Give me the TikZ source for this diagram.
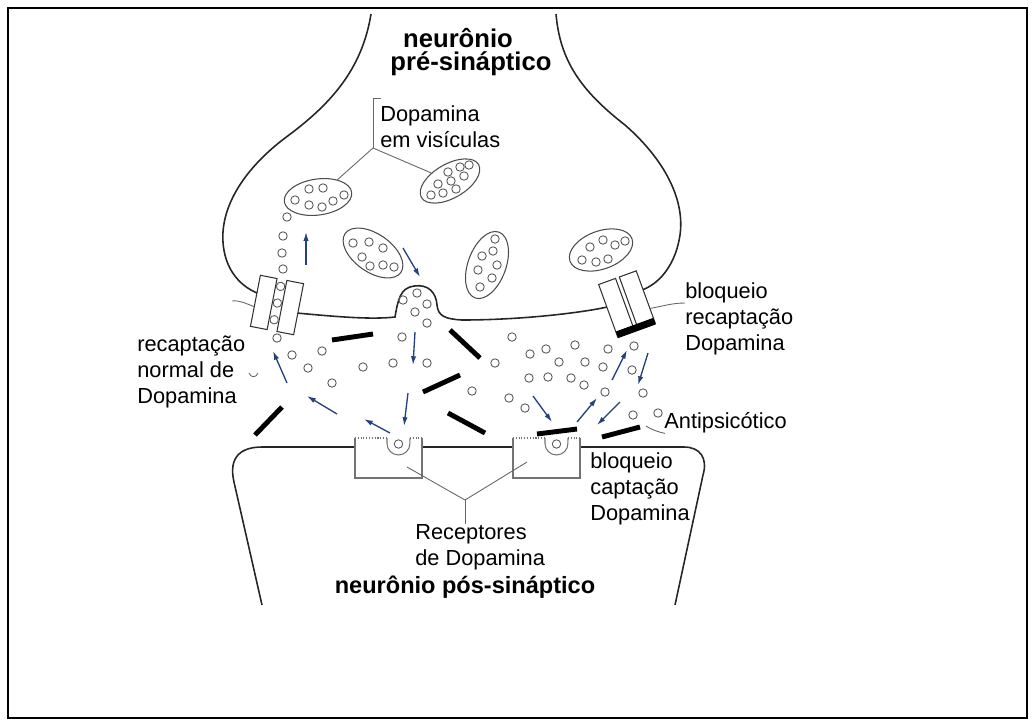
\documentclass[tikz,border=0pt]{standalone}
\usepackage{fontspec}
\setmainfont{Liberation Sans}
\usetikzlibrary{shapes.geometric,arrows.meta}

\definecolor{flowblue}{RGB}{35,65,125}

\begin{document}
\begin{tikzpicture}[
  x=0.02cm, y=-0.02cm,
  every node/.style={inner sep=0pt},
  membrane/.style={draw=black!85, line width=0.9pt},
  vesicle/.style={ellipse, draw=black!70, line width=0.6pt},
  dopa/.style={draw=black!65, line width=0.5pt},
  drug/.style={draw=black, line width=2.8pt},
  flow/.style={draw=flowblue, line width=0.75pt, -{Latex[length=5pt,width=3pt]}},
  lead/.style={draw=black!60, line width=0.5pt},
  pump/.style={draw=black!80, line width=0.6pt, fill=white},
  recep/.style={draw=black!55, line width=0.6pt},
  % multi-line labels sit on the baseline of their last line
  lbl/.style={font=\fontsize{12.4}{14.8}\selectfont, align=left, anchor=base west},
  title/.style={font=\fontsize{14.6}{13}\selectfont\bfseries, anchor=base}]

  \useasboundingbox (0,0) rectangle (1034,725);
  \draw[line width=1.1pt] (8,8) rectangle (1027,718);

  % reuptake pump (open)
  \begin{scope}[shift={(277,305)}, rotate=-11]
    \draw[pump] (-22,-26) rectangle (-5,26);
    \draw[pump] (5,-26) rectangle (22,26);
    \foreach \y in {-19,-2,15} \draw[dopa] (0,\y) circle [radius=2.4pt];
    \coordinate (lt-out)  at (-22,-8);
    \coordinate (lt-in)   at (22,4);
    \coordinate (lt-lead) at (-22,6);
  \end{scope}

  % reuptake pump (blocked)
  \begin{scope}[shift={(627,304)}, rotate=20]
    \draw[pump] (-20,-28) rectangle (-2,28);
    \draw[pump] (2,-28) rectangle (20,28);
    \fill (-20,22) rectangle (20,29);
    \coordinate (rt-in)   at (-20,-4);
    \coordinate (rt-out)  at (20,-8);
    \coordinate (rt-lead) at (20,12);
  \end{scope}

  % presynaptic terminal
  \draw[membrane] (371,14) .. controls (362,70) and (330,105) .. (285,138)
    .. controls (240,172) and (215,215) .. (225,255)
    .. controls (230,275) and (243,287) .. (lt-out);
  \draw[membrane] (556,14) .. controls (560,60) and (580,90) .. (625,125)
    .. controls (665,160) and (685,200) .. (680,235)
    .. controls (676,262) and (662,282) .. (rt-out);
  \draw[membrane] (lt-in) .. controls (330,316) and (370,320) .. (395,317)
    .. controls (398,300) and (400,288) .. (414,286)
    .. controls (428,284) and (436,292) .. (437,305)
    .. controls (438,316) and (445,319) .. (462,320)
    .. controls (520,320) and (580,313) .. (rt-in);

  % postsynaptic cell
  \draw[membrane] (262,605) -- (234,482) .. controls (228,456) and (242,447) .. (262,447) -- (355,447);
  \draw[membrane] (422,447) -- (513,447);
  \draw[membrane] (580,447) -- (684,447) .. controls (700,447) and (708,458) .. (703,475) -- (675,605);

  % receptors
  \foreach \l in {355,513} {
    \draw[recep] (\l,438) -- (\l,478) -- (\l+67,478) -- (\l+67,438);
    \draw[recep, densely dotted] (\l,438) -- (\l+32,438);
    \draw[recep, densely dotted] (\l+55,438) -- (\l+67,438);
    \draw[recep] (\l+32,438) -- (\l+32,443.5) arc (180:360:6.52pt) -- (\l+55,438);
    \draw[dopa] (\l+43.5,444) circle [radius=2.4pt];
  }

  % vesicles
  \node[vesicle, minimum width=1.36cm, minimum height=0.72cm, rotate=8]  (ves1) at (318,197) {};
  \node[vesicle, minimum width=1.32cm, minimum height=0.68cm, rotate=30] (ves2) at (450,181) {};
  \node[vesicle, minimum width=1.36cm, minimum height=0.76cm, rotate=-35] (ves3) at (373,253) {};
  \node[vesicle, minimum width=1.40cm, minimum height=0.76cm, rotate=70] (ves4) at (487,265) {};
  \node[vesicle, minimum width=1.32cm, minimum height=0.76cm, rotate=20] (ves5) at (601,250) {};

  % dopamine inside the vesicles
  \foreach \p in {(309,189),(323,188),(295,200),(309,205),(322,207),(333,201),(344,195),
                  (448,172),(460,167),(469,165),(438,184),(451,181),(464,176),(431,195),(443,193),(456,189),
                  (353,243),(369,242),(383,248),(362,257),(370,266),(383,265),(394,267),
                  (495,239),(482,256),(493,251),(478,270),(497,265),(492,278),(480,287),
                  (590,247),(603,240),(615,245),(625,241),(582,260),(596,262),(608,259)}
    \draw[dopa] \p circle [radius=2.4pt];

  % dopamine going back up, released, and free in the cleft
  \foreach \p in {(287,217),(283,236),(282,253),(283,269),
                  (403,300),(417,293),(427,304),(415,312),(427,323),
                  (277,338),(292,355),(322,351),(308,368),(332,383),(363,367),(393,363),(402,337),
                  (427,363),(472,391),(512,337),(495,363),(530,354),(546,349),(559,362),(575,345),
                  (585,362),(608,349),(634,346),(603,367),(632,370),(529,378),(548,377),(571,378),
                  (584,385),(605,392),(643,393),(509,398),(525,408),(633,415),(658,413)}
    \draw[dopa] \p circle [radius=2.4pt];

  % antipsychotic
  \foreach \xa/\ya/\xb/\yb in {332/340/373/334, 450/330/480/358, 423/392/460/375,
                               282/407/255/435, 448/413/485/433, 537/434/577/429, 602/437/640/427}
    \draw[drug] (\xa,\ya) -- (\xb,\yb);

  % movement
  \foreach \xa/\ya/\xb/\yb in {306/265/306/232, 403/248/420/277, 415/332/413/365,
                               287/383/273/351, 337/414/307/396, 390/433/364/419,
                               408/393/404/426, 533/396/552/422, 577/422/597/398,
                               620/402/597/425, 612/380/627/350, 648/353/638/385}
    \draw[flow] (\xa,\ya) -- (\xb,\yb);

  % labels
  \node[title] (pre1) at (458,47) {neurônio};
  \node[title] (pre2) at (471,70) {pré-sináptico};
  \node[lbl] (dv)  at (380,147) {Dopamina\\em visículas};
  \node[lbl] (rn)  at (137,403) {recaptação\\normal de\\Dopamina};
  \node[lbl] (br)  at (685,350) {bloqueio\\recaptação\\Dopamina};
  \node[lbl] (ap)  at (664,428) {Antipsicótico};
  \node[lbl] (bc)  at (590,520) {bloqueio\\captação\\Dopamina};
  \node[lbl] (rcp) at (415,565) {Receptores\\de Dopamina};
  \node[title, font=\fontsize{13.4}{15}\selectfont\bfseries] (pos) at (465,593) {neurônio pós-sináptico};

  % leader lines
  \coordinate (vj) at (373,148);
  \draw[lead] (381,98) -- (373,98) -- (vj);
  \draw[lead] (vj) -- (ves1);
  \draw[lead] (vj) -- (ves2);
  \coordinate (rj) at (465,500);
  \coordinate (rec1) at (407,467);
  \coordinate (rec2) at (527,462);
  \draw[lead] (rec1) -- (rj) -- (rec2);
  \draw[lead] (rj) -- (rcp.north -| rj);
  \draw[lead] (lt-lead) .. controls (247,304) and (240,300) .. (232,301);
  \draw[lead] (249,373) .. controls (251,378) and (256,378) .. (258,373);
  \draw[lead] (rt-lead) .. controls (664,306) and (672,303) .. (br.west |- 0,303);
  \draw[lead] (646,426) .. controls (655,432) and (668,434) .. (ap.west |- 0,433);
\end{tikzpicture}
\end{document}
